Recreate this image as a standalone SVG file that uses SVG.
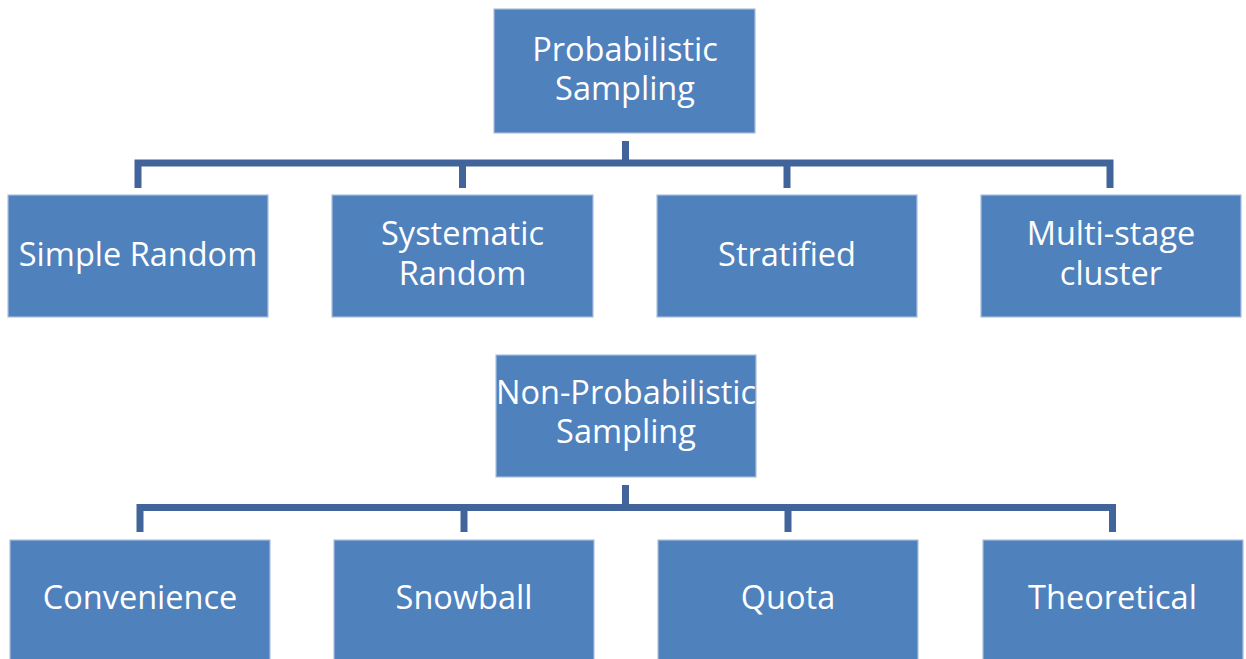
<svg xmlns="http://www.w3.org/2000/svg" width="1246" height="659" viewBox="0 0 1246 659">
<style>
.box{fill:#4F81BD;stroke:#A9C0DE;stroke-width:1.2}
.t{fill:#FFFFFF;font-family:"Open Sans","Lato",sans-serif;font-size:32.5px;text-anchor:middle}
.c{fill:none;stroke:#41659A;stroke-width:7;stroke-linejoin:miter}
</style>
<defs>
<clipPath id="npclip"><rect x="496" y="355" width="260" height="122"/></clipPath>
</defs>
<rect width="1246" height="659" fill="#FFFFFF"/>
<g id="connectors">
<path class="c" d="M625.5,141 V163"/>
<path class="c" d="M138,188 V163 H1110 V188"/>
<path class="c" d="M462.5,163 V188 M787,163 V188"/>
<path class="c" d="M625.5,485 V507.5"/>
<path class="c" d="M140,532 V507.5 H1112.5 V532"/>
<path class="c" d="M464,507.5 V532 M788,507.5 V532"/>
</g>
<g id="prob">
<rect class="box" x="494" y="9" width="261" height="124"/>
<text class="t" x="625" y="61">Probabilistic</text>
<text class="t" x="625" y="100">Sampling</text>
</g>
<g id="simple">
<rect class="box" x="8" y="195" width="260" height="122"/>
<text class="t" x="138" y="266">Simple Random</text>
</g>
<g id="systematic">
<rect class="box" x="332" y="195" width="261" height="122"/>
<text class="t" x="462.5" y="245">Systematic</text>
<text class="t" x="462.5" y="285">Random</text>
</g>
<g id="stratified">
<rect class="box" x="657" y="195" width="260" height="122"/>
<text class="t" x="787" y="266">Stratified</text>
</g>
<g id="multistage">
<rect class="box" x="981" y="195" width="260" height="122"/>
<text class="t" x="1111" y="245">Multi-stage</text>
<text class="t" x="1111" y="285">cluster</text>
</g>
<g id="nonprob">
<rect class="box" x="496" y="355" width="260" height="122"/>
<g clip-path="url(#npclip)">
<text class="t" x="626" y="404">Non-Probabilistic</text>
</g>
<text class="t" x="626" y="443">Sampling</text>
</g>
<g id="convenience">
<rect class="box" x="10" y="540" width="260" height="125"/>
<text class="t" x="140" y="609">Convenience</text>
</g>
<g id="snowball">
<rect class="box" x="334" y="540" width="260" height="125"/>
<text class="t" x="464" y="609">Snowball</text>
</g>
<g id="quota">
<rect class="box" x="658" y="540" width="260" height="125"/>
<text class="t" x="788" y="609">Quota</text>
</g>
<g id="theoretical">
<rect class="box" x="983" y="540" width="260" height="125"/>
<text class="t" x="1112.5" y="609">Theoretical</text>
</g>
</svg>
